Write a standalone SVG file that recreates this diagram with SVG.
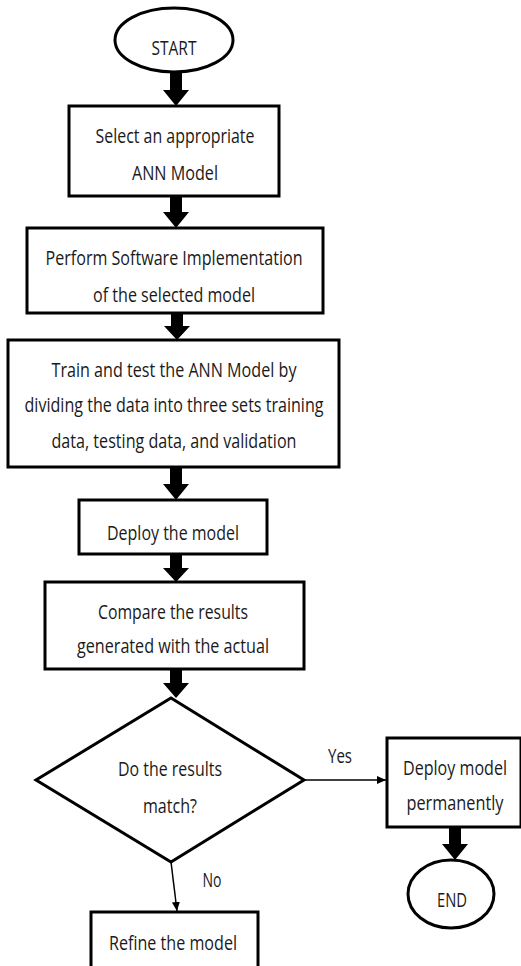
<svg xmlns="http://www.w3.org/2000/svg" width="521" height="966" viewBox="0 0 521 966">
<style>
.n{fill:#fff;stroke:#000;stroke-width:3}
.t{font-family:"Open Sans","Liberation Sans",sans-serif;font-size:20px;fill:#1a1a1a;text-anchor:middle}
.big{fill:#000}
.thin{stroke:#000;stroke-width:1.5;fill:none}
</style>
<defs>
<marker id="ah" markerWidth="10" markerHeight="10" refX="9" refY="5" orient="auto" markerUnits="userSpaceOnUse">
<path d="M0,1 L9,5 L0,9 Z" fill="#000"/>
</marker>
</defs>
<rect width="521" height="966" fill="#fff"/>
<g id="connectors">
<polygon class="big" points="170,72 182,72 182,90 189,90 176,106 163,90 170,90"/>
<polygon class="big" points="170,196 182,196 182,212 189,212 176,228 163,212 170,212"/>
<polygon class="big" points="171,313 183,313 183,326 190,326 177,340 164,326 171,326"/>
<polygon class="big" points="170,467 182,467 182,484 189,484 176,500 163,484 170,484"/>
<polygon class="big" points="170,554 182,554 182,568 189,568 176,582 163,568 170,568"/>
<polygon class="big" points="170,669 182,669 182,683 189,683 176,698 163,683 170,683"/>
<polygon class="big" points="449,827 461,827 461,844 468,844 455,860 442,844 449,844"/>
<line class="thin" x1="304" y1="780" x2="386" y2="780" marker-end="url(#ah)"/>
<line class="thin" x1="171" y1="862" x2="177" y2="911" marker-end="url(#ah)"/>
<text class="t" x="340" y="763" textLength="24" lengthAdjust="spacingAndGlyphs">Yes</text>
<text class="t" x="212" y="887" textLength="19" lengthAdjust="spacingAndGlyphs">No</text>
</g>
<g id="start">
<ellipse class="n" cx="174" cy="40" rx="59" ry="32"/>
<text class="t" x="174" y="55" textLength="45" lengthAdjust="spacingAndGlyphs">START</text>
</g>
<g id="select">
<rect class="n" x="69" y="106" width="210" height="90"/>
<text class="t" x="175" y="143" textLength="159" lengthAdjust="spacingAndGlyphs">Select an appropriate</text>
<text class="t" x="175" y="180" textLength="86" lengthAdjust="spacingAndGlyphs">ANN Model</text>
</g>
<g id="implement">
<rect class="n" x="27" y="228" width="296" height="85"/>
<text class="t" x="174" y="265" textLength="257" lengthAdjust="spacingAndGlyphs">Perform Software Implementation</text>
<text class="t" x="174" y="302" textLength="162" lengthAdjust="spacingAndGlyphs">of the selected model</text>
</g>
<g id="train">
<rect class="n" x="8" y="340" width="331" height="127"/>
<text class="t" x="174" y="377" textLength="245" lengthAdjust="spacingAndGlyphs">Train and test the ANN Model by</text>
<text class="t" x="174" y="412" textLength="299" lengthAdjust="spacingAndGlyphs">dividing the data into three sets training</text>
<text class="t" x="174" y="448" textLength="245" lengthAdjust="spacingAndGlyphs">data, testing data, and validation</text>
</g>
<g id="deploy">
<rect class="n" x="79" y="500" width="188" height="54"/>
<text class="t" x="173" y="540" textLength="132" lengthAdjust="spacingAndGlyphs">Deploy the model</text>
</g>
<g id="compare">
<rect class="n" x="45" y="582" width="259" height="87"/>
<text class="t" x="173" y="619" textLength="150" lengthAdjust="spacingAndGlyphs">Compare the results</text>
<text class="t" x="173" y="653" textLength="192" lengthAdjust="spacingAndGlyphs">generated with the actual</text>
</g>
<g id="decision">
<polygon class="n" points="171,698 304,780 171,862 36,780"/>
<text class="t" x="170" y="776" textLength="104" lengthAdjust="spacingAndGlyphs">Do the results</text>
<text class="t" x="170" y="813" textLength="54" lengthAdjust="spacingAndGlyphs">match?</text>
</g>
<g id="permanent">
<rect class="n" x="387" y="738" width="134" height="89"/>
<text class="t" x="455" y="775" textLength="104" lengthAdjust="spacingAndGlyphs">Deploy model</text>
<text class="t" x="455" y="810" textLength="97" lengthAdjust="spacingAndGlyphs">permanently</text>
</g>
<g id="end">
<ellipse class="n" cx="451" cy="894" rx="43" ry="34"/>
<text class="t" x="452" y="907" textLength="30" lengthAdjust="spacingAndGlyphs">END</text>
</g>
<g id="refine">
<rect class="n" x="91" y="912" width="167" height="64"/>
<text class="t" x="173" y="950" textLength="128" lengthAdjust="spacingAndGlyphs">Refine the model</text>
</g>
</svg>
